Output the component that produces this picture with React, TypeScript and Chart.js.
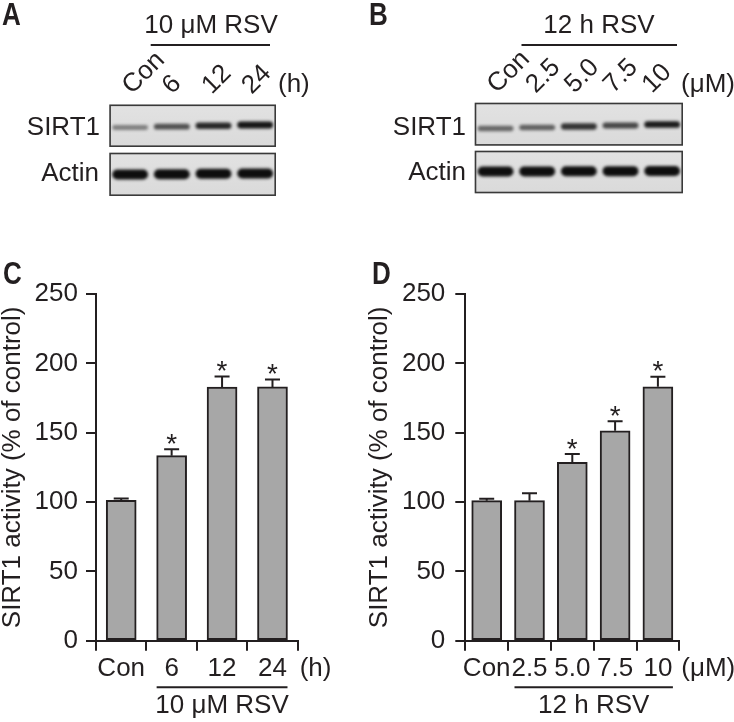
import React, { useEffect, useRef } from 'react';
import { Chart, registerables } from 'chart.js';

Chart.register(...registerables);

const FONT = "'Liberation Sans', Arial, Helvetica, sans-serif";
const INK = '#231f20';
const BAR_FILL = '#a7a7a7';
const FS = 26;

// ---- Panel C: time course (10 uM RSV) ----
const timeLabels = ['Con', '6', '12', '24'];
const timeActivity = [101.2, 133.4, 182.9, 183.0];
const timeSem = [1.3, 4.6, 7.7, 5.4];
const timeStar = [false, true, true, true];

// ---- Panel D: dose response (12 h RSV) ----
const doseLabels = ['Con', '2.5', '5.0', '7.5', '10'];
const doseActivity = [101.0, 101.0, 128.6, 151.4, 183.1];
const doseSem = [1.4, 5.3, 6.0, 6.8, 7.3];
const doseStar = [false, false, true, true, true];

// y axis
const yMin = 0;
const yMax = 250;
const yStep = 50;

// ---- Western blot band intensities (0..1) ----
const timeSirt1Bands = [0.3, 0.6, 0.85, 0.95];
const timeActinBands = [1, 1, 1, 1];
const doseSirt1Bands = [0.45, 0.5, 0.78, 0.65, 0.92];
const doseActinBands = [1, 1, 1, 1, 1];

function drawLetter(ctx: CanvasRenderingContext2D, letter: string, x: number, y: number) {
  ctx.save();
  ctx.fillStyle = INK;
  ctx.font = `bold 31px ${FONT}`;
  ctx.textAlign = 'left';
  ctx.textBaseline = 'alphabetic';
  ctx.translate(x, y);
  ctx.scale(0.84, 1);
  ctx.fillText(letter, 0, 0);
  ctx.restore();
}

function drawBlot(
  ctx: CanvasRenderingContext2D,
  x: number, y: number, w: number, h: number,
  bands: number[], bandY: number, thick: number, lift: number
) {
  const g = ctx.createLinearGradient(x, y, x, y + h);
  g.addColorStop(0, '#e2e2e2');
  g.addColorStop(1, '#dadada');
  ctx.fillStyle = g;
  ctx.fillRect(x, y, w, h);
  const laneW = w / bands.length;
  bands.forEach((v, i) => {
    const cx = x + laneW * (i + 0.5);
    const t = thick * (0.55 + 0.45 * v);
    const bw = laneW * 0.86;
    const cy = bandY - lift * (i / Math.max(1, bands.length - 1));
    ctx.save();
    ctx.filter = 'blur(1.4px)';
    ctx.fillStyle = `rgba(14,14,14,${0.22 + 0.78 * v})`;
    ctx.beginPath();
    (ctx as any).roundRect(cx - bw / 2, cy - t / 2, bw, t, t / 2);
    ctx.fill();
    ctx.restore();
  });
  ctx.strokeStyle = '#3a3a3a';
  ctx.lineWidth = 1.6;
  ctx.strokeRect(x + 0.8, y + 0.8, w - 1.6, h - 1.6);
}

function drawRotatedLabels(
  ctx: CanvasRenderingContext2D, labels: string[], startX: number, step: number, baseY: number
) {
  ctx.font = `${FS}px ${FONT}`;
  ctx.fillStyle = INK;
  ctx.textAlign = 'left';
  ctx.textBaseline = 'alphabetic';
  labels.forEach((lab, i) => {
    ctx.save();
    ctx.translate(startX + step * i, baseY);
    ctx.rotate(-Math.PI / 4);
    ctx.fillText(lab, 0, 0);
    ctx.restore();
  });
}

function Blots() {
  const ref = useRef<HTMLCanvasElement>(null);
  useEffect(() => {
    const c = ref.current!;
    const ctx = c.getContext('2d')!;
    ctx.clearRect(0, 0, c.width, c.height);

    drawLetter(ctx, 'A', 2, 25);
    drawLetter(ctx, 'B', 369, 25);

    // headers
    ctx.fillStyle = INK;
    ctx.font = `${FS}px ${FONT}`;
    ctx.textAlign = 'center';
    ctx.textBaseline = 'alphabetic';
    ctx.fillText('10 \u03bcM RSV', 211, 32.5);
    ctx.fillText('12 h RSV', 599, 32.5);
    ctx.strokeStyle = INK;
    ctx.lineWidth = 2;
    ctx.beginPath();
    ctx.moveTo(150.7, 45); ctx.lineTo(270, 45);
    ctx.moveTo(521.5, 45); ctx.lineTo(677, 45);
    ctx.stroke();

    // lane labels
    drawRotatedLabels(ctx, timeLabels, 132, 39.9, 95);
    drawRotatedLabels(ctx, doseLabels, 497, 38.75, 94);
    ctx.textAlign = 'left';
    ctx.textBaseline = 'middle';
    ctx.fillText('(h)', 278, 85);
    ctx.fillText('(\u03bcM)', 681, 85);

    // row labels
    ctx.textAlign = 'right';
    ctx.fillText('SIRT1', 100, 127.5);
    ctx.fillText('Actin', 99, 174);
    ctx.fillText('SIRT1', 466, 127.5);
    ctx.fillText('Actin', 466, 172.5);

    // blots
    drawBlot(ctx, 109.3, 104.5, 166.7, 42.5, timeSirt1Bands, 127.5, 7, 2.5);
    drawBlot(ctx, 109.3, 152.7, 166.7, 43.3, timeActinBands, 174.5, 10, 1);
    drawBlot(ctx, 474.7, 102.7, 208.3, 43, doseSirt1Bands, 128.5, 7, 4);
    drawBlot(ctx, 474.7, 150.7, 208.3, 42.6, doseActinBands, 171.5, 10, 0.5);
  }, []);
  return (
    <canvas
      ref={ref}
      width={734}
      height={205}
      style={{ position: 'absolute', left: 0, top: 0, width: 734, height: 205 }}
    />
  );
}

type ActivityProps = {
  left: number;
  letter: string;
  letterX: number;
  labels: string[];
  values: number[];
  sem: number[];
  star: boolean[];
  unit: string;
  group: string;
  yAxisWidth: number;
  padRight: number;
  tickPad: number;
};

function ActivityChart(p: ActivityProps) {
  const ref = useRef<HTMLCanvasElement>(null);
  useEffect(() => {
    const canvas = ref.current!;
    const extras = {
      id: 'extras',
      afterDatasetsDraw(chart: any) {
        const ctx: CanvasRenderingContext2D = chart.ctx;
        const xs = chart.scales.x;
        const ys = chart.scales.y;
        ctx.save();
        ctx.strokeStyle = INK;
        ctx.fillStyle = INK;
        ctx.lineWidth = 2;
        p.values.forEach((v, i) => {
          const x = xs.getPixelForValue(i);
          const y0 = ys.getPixelForValue(v);
          const y1 = ys.getPixelForValue(v + p.sem[i]);
          ctx.beginPath();
          ctx.moveTo(x, y0);
          ctx.lineTo(x, y1);
          ctx.moveTo(x - 7.5, y1);
          ctx.lineTo(x + 7.5, y1);
          ctx.stroke();
          if (p.star[i]) {
            ctx.font = `28px ${FONT}`;
            ctx.textAlign = 'center';
            ctx.textBaseline = 'alphabetic';
            ctx.fillText('*', x, y1 - 12.5 + 16);
          }
        });
        ctx.restore();
      },
      afterDraw(chart: any) {
        const ctx: CanvasRenderingContext2D = chart.ctx;
        const xs = chart.scales.x;
        const n = p.labels.length;
        ctx.save();
        ctx.fillStyle = INK;
        ctx.strokeStyle = INK;
        ctx.font = `${FS}px ${FONT}`;
        ctx.textAlign = 'left';
        ctx.textBaseline = 'middle';
        ctx.fillText(p.unit, xs.right + 2, xs.top + 28.5);
        const x1 = xs.getPixelForValue(1) - 15;
        const x2 = xs.getPixelForValue(n - 1) + 15;
        ctx.lineWidth = 2;
        ctx.beginPath();
        ctx.moveTo(x1, xs.top + 46.6);
        ctx.lineTo(x2, xs.top + 46.6);
        ctx.stroke();
        ctx.textAlign = 'center';
        ctx.fillText(p.group, (x1 + x2) / 2, xs.top + 65.5);
        ctx.restore();
        drawLetter(ctx, p.letter, p.letterX, 24);
      },
    };

    const axisGrid = {
      display: true,
      drawOnChartArea: false,
      drawTicks: true,
      tickLength: 10,
      color: INK,
      lineWidth: 2,
    };

    const chart = new Chart(canvas, {
      type: 'bar',
      data: {
        labels: p.labels,
        datasets: [
          {
            data: p.values,
            backgroundColor: BAR_FILL,
            borderColor: INK,
            borderWidth: 2,
            borderSkipped: false,
            barThickness: 30,
          },
        ],
      },
      options: {
        responsive: false,
        animation: false,
        events: [],
        devicePixelRatio: 1,
        layout: { padding: { left: 0, top: 34, right: p.padRight, bottom: 0 } },
        plugins: {
          legend: { display: false },
          tooltip: { enabled: false },
        },
        scales: {
          x: {
            grid: { ...axisGrid, offset: true },
            border: { display: true, color: INK, width: 2 },
            ticks: {
              color: INK,
              font: { family: FONT, size: FS },
              padding: 3,
              maxRotation: 0,
              autoSkip: false,
            },
            afterFit: (s: any) => {
              s.height = 81.3;
            },
          },
          y: {
            min: yMin,
            max: yMax,
            grid: axisGrid,
            border: { display: true, color: INK, width: 2 },
            ticks: {
              stepSize: yStep,
              color: INK,
              font: { family: FONT, size: FS },
              padding: p.tickPad,
            },
            title: {
              display: true,
              text: 'SIRT1 activity (% of control)',
              color: INK,
              font: { family: FONT, size: FS, lineHeight: 1 },
              padding: { top: 0, bottom: 0 },
            },
            afterFit: (s: any) => {
              s.width = p.yAxisWidth;
            },
          },
        },
      } as any,
      plugins: [extras],
    });
    return () => chart.destroy();
  }, []);
  return (
    <canvas
      ref={ref}
      width={367}
      height={462}
      style={{ position: 'absolute', left: p.left, top: 260, width: 367, height: 462 }}
    />
  );
}

export default function App() {
  return (
    <div
      style={{
        position: 'fixed',
        left: 0,
        top: 0,
        width: 734,
        height: 722,
        background: '#ffffff',
        overflow: 'hidden',
      }}
    >
      <Blots />
      <ActivityChart
        left={0}
        letter="C"
        letterX={3}
        labels={timeLabels}
        values={timeActivity}
        sem={timeSem}
        star={timeStar}
        unit="(h)"
        group={'10 \u03bcM RSV'}
        yAxisWidth={96}
        padRight={69.3}
        tickPad={8}
      />
      <ActivityChart
        left={367}
        letter="D"
        letterX={5}
        labels={doseLabels}
        values={doseActivity}
        sem={doseSem}
        star={doseStar}
        unit={'(\u03bcM)'}
        group="12 h RSV"
        yAxisWidth={98.3}
        padRight={54.7}
        tickPad={10}
      />
    </div>
  );
}
